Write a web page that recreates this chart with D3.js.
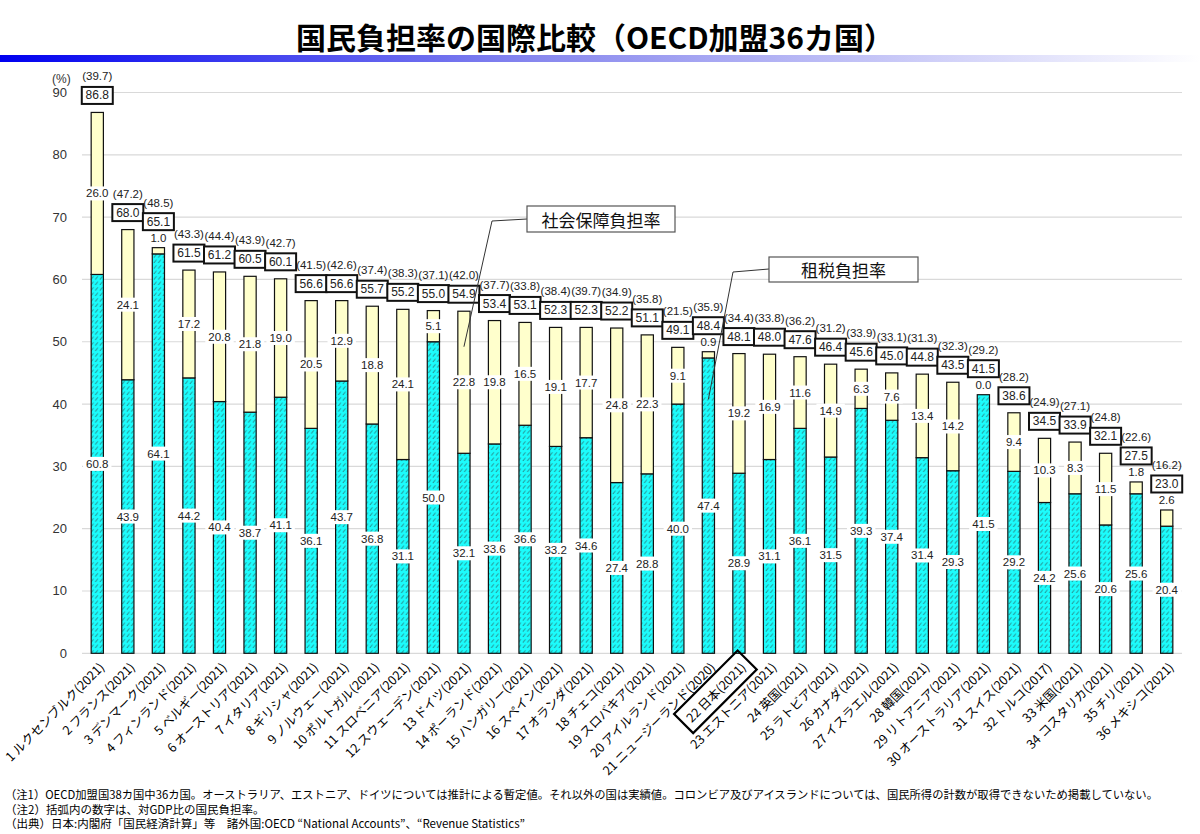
<!DOCTYPE html>
<html>
<head>
<meta charset="utf-8">
<script src="https://cdn.jsdelivr.net/npm/d3@7"></script>
<style>
body{margin:0;background:#fff;}
</style>
</head>
<body>
<div id="chart"></div>
<script>
// data
const countries = ["ルクセンブルク","フランス","デンマーク","フィンランド","ベルギー","オーストリア","イタリア","ギリシャ","ノルウェー","ポルトガル","スロベニア","スウェーデン","ドイツ","ポーランド","ハンガリー","スペイン","オランダ","チェコ","スロバキア","アイルランド","ニュージーランド","日本","エストニア","英国","ラトビア","カナダ","イスラエル","韓国","リトアニア","オーストラリア","スイス","トルコ","米国","コスタリカ","チリ","メキシコ"];
const years = [2021,2021,2021,2021,2021,2021,2021,2021,2021,2021,2021,2021,2021,2021,2021,2021,2021,2021,2021,2021,2020,2021,2021,2021,2021,2021,2021,2021,2021,2021,2021,2017,2021,2021,2021,2021];
// 租税負担率
const taxRate = [60.8,43.9,64.1,44.2,40.4,38.7,41.1,36.1,43.7,36.8,31.1,50.0,32.1,33.6,36.6,33.2,34.6,27.4,28.8,40.0,47.4,28.9,31.1,36.1,31.5,39.3,37.4,31.4,29.3,41.5,29.2,24.2,25.6,20.6,25.6,20.4];
// 社会保障負担率
const socialRate = [26.0,24.1,1.0,17.2,20.8,21.8,19.0,20.5,12.9,18.8,24.1,5.1,22.8,19.8,16.5,19.1,17.7,24.8,22.3,9.1,0.9,19.2,16.9,11.6,14.9,6.3,7.6,13.4,14.2,0.0,9.4,10.3,8.3,11.5,1.8,2.6];
// 国民負担率
const totalRate = [86.8,68.0,65.1,61.5,61.2,60.5,60.1,56.6,56.6,55.7,55.2,55.0,54.9,53.4,53.1,52.3,52.3,52.2,51.1,49.1,48.4,48.1,48.0,47.6,46.4,45.6,45.0,44.8,43.5,41.5,38.6,34.5,33.9,32.1,27.5,23.0];
// 対GDP比
const gdpRate = [39.7,47.2,48.5,43.3,44.4,43.9,42.7,41.5,42.6,37.4,38.3,37.1,42.0,37.7,33.8,38.4,39.7,34.9,35.8,21.5,35.9,34.4,33.8,36.2,31.2,33.9,33.1,31.3,32.3,29.2,28.2,24.9,27.1,24.8,22.6,16.2];
const yTicks = [0,10,20,30,40,50,60,70,80,90];
const highlight = "日本";

const title = "国民負担率の国際比較（OECD加盟36カ国）";
const notes = [
  "（注1）OECD加盟国38カ国中36カ国。オーストラリア、エストニア、ドイツについては推計による暫定値。それ以外の国は実績値。コロンビア及びアイスランドについては、国民所得の計数が取得できないため掲載していない。",
  "（注2）括弧内の数字は、対GDP比の国民負担率。",
  "（出典）日本:内閣府「国民経済計算」等　諸外国:OECD “National Accounts”、“Revenue Statistics”"
];

const width = 1200, height = 834;
const numFont = "'Liberation Sans', Arial, sans-serif";
const jpFont = "'Noto Sans CJK JP', sans-serif";

const svg = d3.select("#chart").append("svg")
  .attr("width", width).attr("height", height);

const defs = svg.append("defs");

// title underline gradient
const grad = defs.append("linearGradient").attr("id", "titleBar")
  .attr("x1", "0%").attr("x2", "100%").attr("y1", "0%").attr("y2", "0%");
grad.append("stop").attr("offset", "0%").attr("stop-color", "#0000f0");
grad.append("stop").attr("offset", "45%").attr("stop-color", "#8888ee");
grad.append("stop").attr("offset", "100%").attr("stop-color", "#ffffff");

// hatched cyan fill
const hatch = defs.append("pattern").attr("id", "hatch")
  .attr("patternUnits", "userSpaceOnUse").attr("width", 4.5).attr("height", 5.5);
hatch.append("rect").attr("width", 4.5).attr("height", 5.5).attr("fill", "#1cfcfc");
hatch.append("path").attr("d", "M0.8,4.6 L3.4,1.3")
  .attr("stroke", "#2f4f4f").attr("stroke-width", 0.75);

// title
svg.append("text")
  .attr("x", 595).attr("y", 36)
  .attr("text-anchor", "middle").attr("dominant-baseline", "central")
  .style("font-family", jpFont).style("font-weight", 700).style("font-size", "30px")
  .text(title);
svg.append("rect").attr("x", 0).attr("y", 55).attr("width", width).attr("height", 7)
  .attr("fill", "url(#titleBar)");

// scales
const x = d3.scaleBand().domain(d3.range(countries.length))
  .range([82, 1182]).paddingInner(0.6).paddingOuter(0.3);
const y = d3.scaleLinear().domain([0, 90]).range([653.3, 92.5]);
const xc = i => x(i) + x.bandwidth() / 2;

// grid
svg.append("g").selectAll("line").data(yTicks).enter().append("line")
  .attr("x1", 82).attr("x2", 1182)
  .attr("y1", d => y(d)).attr("y2", d => y(d))
  .attr("stroke", "#d9d9d9").attr("stroke-width", 1.2);

svg.append("g").selectAll("text").data(yTicks).enter().append("text")
  .attr("x", 67).attr("y", d => y(d))
  .attr("text-anchor", "end").attr("dominant-baseline", "central")
  .style("font-family", numFont).style("font-size", "13px").attr("fill", "#333")
  .text(d => d);
svg.append("text").attr("x", 52).attr("y", 79).attr("dominant-baseline", "central")
  .style("font-family", numFont).style("font-size", "12px").attr("fill", "#333")
  .text("(%)");

const idx = d3.range(countries.length);

// bars
const bars = svg.append("g");
bars.selectAll(".tax").data(idx).enter().append("rect")
  .attr("class", "tax")
  .attr("x", d => x(d)).attr("width", x.bandwidth())
  .attr("y", d => y(taxRate[d])).attr("height", d => y(0) - y(taxRate[d]))
  .attr("fill", "url(#hatch)").attr("stroke", "#111").attr("stroke-width", 1.2);
bars.selectAll(".ss").data(idx.filter(d => totalRate[d] - taxRate[d] > 0)).enter().append("rect")
  .attr("class", "ss")
  .attr("x", d => x(d)).attr("width", x.bandwidth())
  .attr("y", d => y(totalRate[d])).attr("height", d => y(taxRate[d]) - y(totalRate[d]))
  .attr("fill", "#ffffcc").attr("stroke", "#111").attr("stroke-width", 1.2);

// value labels with white background
function valueLabel(g, cx, cy, txt, bg) {
  const t = g.append("text").attr("x", cx).attr("y", cy)
    .attr("text-anchor", "middle").attr("dominant-baseline", "central")
    .style("font-family", numFont).style("font-size", "11.5px").attr("fill", "#222")
    .text(txt);
  if (bg) {
    const b = t.node().getBBox();
    g.insert("rect", () => t.node())
      .attr("x", b.x - 3).attr("y", cy - 7).attr("width", b.width + 6).attr("height", 14)
      .attr("fill", "#fff");
  }
}
const labels = svg.append("g");
idx.forEach(i => {
  const small = socialRate[i] < 3;
  valueLabel(labels, xc(i), y(taxRate[i] / 2), taxRate[i].toFixed(1), true);
  if (small) {
    valueLabel(labels, xc(i), y(totalRate[i]) - 10, socialRate[i].toFixed(1), false);
  } else {
    valueLabel(labels, xc(i), y((taxRate[i] + totalRate[i]) / 2), socialRate[i].toFixed(1), true);
  }
  const by = y(totalRate[i]) - (small ? 26 : 17);
  labels.append("rect")
    .attr("x", xc(i) - 15.5).attr("y", by - 8.5).attr("width", 31).attr("height", 17)
    .attr("fill", "#fff").attr("stroke", "#111").attr("stroke-width", 2);
  labels.append("text").attr("x", xc(i)).attr("y", by)
    .attr("text-anchor", "middle").attr("dominant-baseline", "central")
    .style("font-family", numFont).style("font-size", "12px").attr("fill", "#222")
    .text(totalRate[i].toFixed(1));
  labels.append("text").attr("x", xc(i)).attr("y", by - 19)
    .attr("text-anchor", "middle").attr("dominant-baseline", "central")
    .style("font-family", numFont).style("font-size", "11.5px").attr("fill", "#222")
    .text("(" + gdpRate[i].toFixed(1) + ")");
});

// x labels
const xl = svg.append("g");
idx.forEach(i => {
  const g = xl.append("g")
    .attr("transform", `translate(${xc(i) + 4},${y(0) + 11}) rotate(-45)`);
  const t = g.append("text").attr("x", 0).attr("y", 0)
    .attr("text-anchor", "end").attr("dominant-baseline", "central")
    .style("font-family", jpFont).style("font-size", "12.5px").attr("fill", "#000")
    .text(`${i + 1} ${countries[i]}(${years[i]})`);
  if (countries[i] === highlight) {
    const b = t.node().getBBox();
    g.append("rect")
      .attr("x", b.x - 6).attr("y", b.y - 4).attr("width", b.width + 12).attr("height", b.height + 8)
      .attr("fill", "none").attr("stroke", "#000").attr("stroke-width", 2.2);
  }
});

// callouts
function callout(text, bx, by, bw, bh, pts) {
  svg.append("path")
    .attr("d", d3.line()(pts))
    .attr("fill", "none").attr("stroke", "#333").attr("stroke-width", 1);
  svg.append("rect").attr("x", bx).attr("y", by).attr("width", bw).attr("height", bh)
    .attr("fill", "#fff").attr("stroke", "#555").attr("stroke-width", 1.2);
  svg.append("text").attr("x", bx + bw / 2).attr("y", by + bh / 2)
    .attr("text-anchor", "middle").attr("dominant-baseline", "central")
    .style("font-family", jpFont).style("font-size", "17px").attr("fill", "#111")
    .text(text);
}
const deIdx = countries.indexOf("ドイツ");
const nzIdx = countries.indexOf("ニュージーランド");
callout("社会保障負担率", 527, 206, 148, 26,
  [[527, 219], [492, 221], [xc(deIdx), y(taxRate[deIdx] + socialRate[deIdx] * 0.75)]]);
callout("租税負担率", 769, 257, 149, 25,
  [[769, 269], [733, 272], [xc(nzIdx), y(taxRate[nzIdx] * 0.86)]]);

// notes
const noteY = [794, 808.5, 823];
notes.forEach((n, k) => {
  const t = svg.append("text").attr("x", 5).attr("y", noteY[k])
    .attr("dominant-baseline", "central")
    .style("font-family", jpFont).style("font-size", "11.5px").attr("fill", "#000")
    .text(n);
  if (k === 0) t.attr("textLength", 1153).attr("lengthAdjust", "spacingAndGlyphs");
});
</script>
</body>
</html>
